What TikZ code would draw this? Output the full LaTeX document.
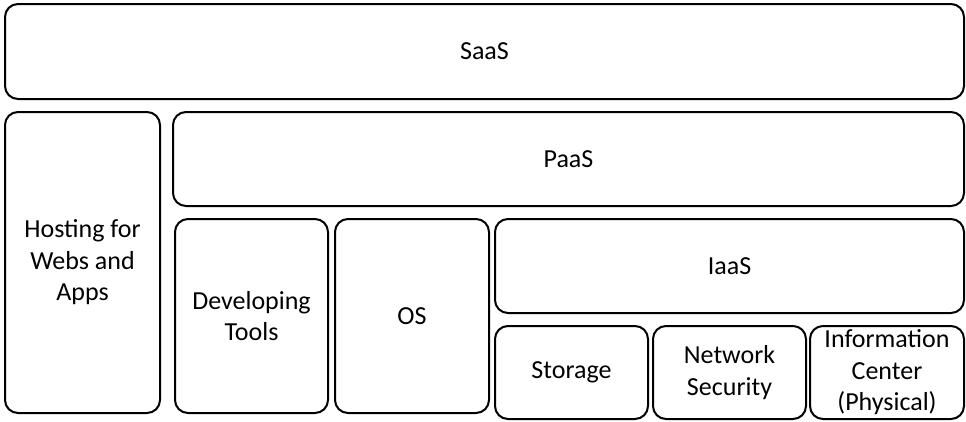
\documentclass[tikz,border=0pt]{standalone}
\usepackage{fontspec}
\setmainfont{Carlito}
\begin{document}
\begin{tikzpicture}[x=1pt,y=-1pt,
  blk/.style={draw=black, line width=2pt, rounded corners=13pt, inner sep=0pt, align=center,
    font=\fontsize{26}{31.5}\selectfont}]
\useasboundingbox (0,0) rectangle (966,421);
\newcommand{\blkat}[6]{\node[blk, minimum width={#4-#2}, minimum height={#5-#3}] (#1) at ({(#2+#4)/2},{(#3+#5)/2}) {#6};}
\blkat{saas}{5}{4}{964}{99}{SaaS}
\blkat{host}{5}{112}{160}{413}{Hosting for\\Webs and\\Apps}
\blkat{paas}{173}{112}{964}{206}{PaaS}
\blkat{dev}{175}{219}{328}{413}{Developing\\Tools}
\blkat{os}{335}{219}{489}{413}{OS}
\blkat{iaas}{495}{219}{964}{313}{IaaS}
\blkat{stor}{495}{326}{648}{419}{Storage}
\blkat{net}{653}{326}{806}{419}{Network\\Security}
\blkat{info}{810}{326}{964}{419}{Information\\Center\\(Physical)}
\end{tikzpicture}
\end{document}
